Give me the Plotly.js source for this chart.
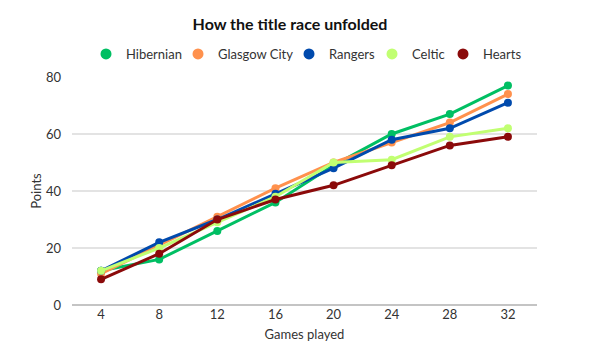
<!DOCTYPE html>
<html>
<head>
<meta charset="utf-8">
<script src="https://cdn.plot.ly/plotly-3.0.1.min.js"></script>
<style>html,body{margin:0;padding:0;background:#fff}#chart{width:602px;height:357px}</style>
</head>
<body>
<div id="chart"></div>
<script>
const games = [4, 8, 12, 16, 20, 24, 28, 32];
const teams = ["Hibernian", "Glasgow City", "Rangers", "Celtic", "Hearts"];
const hibernian = [12, 16, 26, 36, 49, 60, 67, 77];
const glasgowCity = [11, 21, 31, 41, 50, 57, 64, 74];
const rangers = [12, 22, 30, 39, 48, 58, 62, 71];
const celtic = [12, 20, 29, 38, 50, 51, 59, 62];
const hearts = [9, 18, 30, 37, 42, 49, 56, 59];
const yTicks = [0, 20, 40, 60, 80];
const xTicks = games;

const series = [hibernian, glasgowCity, rangers, celtic, hearts];
const colors = ["#00bf63", "#ff914d", "#004aad", "#c1ff72", "#8b0a0a"];
const legendMarkerX = [106, 198, 309, 392, 463];
const FONT = "Lato, 'Open Sans', sans-serif";
const legendIds = ["legend", "legend2", "legend3", "legend4", "legend5"];

const traces = [];
teams.forEach((name, i) => {
  traces.push({
    x: games, y: series[i], name: name, type: "scatter", mode: "lines+markers",
    line: {color: colors[i], width: 3},
    marker: {color: colors[i], size: 8},
    legendgroup: name, showlegend: false, cliponaxis: false
  });
});
teams.forEach((name, i) => {
  traces.push({
    x: [null], y: [null], name: name, type: "scatter", mode: "markers",
    marker: {color: colors[i], size: 11},
    legendgroup: name, showlegend: true, legend: legendIds[i]
  });
});

const layout = {
  width: 602, height: 357,
  margin: {l: 72, r: 65, t: 77, b: 52},
  paper_bgcolor: "#fff", plot_bgcolor: "#fff",
  font: {family: FONT, size: 13, color: "#333"},
  title: {text: "<b>How the title race unfolded</b>", font: {family: FONT, size: 16, color: "#111"},
          x: 290/602, xanchor: "center", y: 1 - 24/357, yanchor: "middle", xref: "container", yref: "container"},
  showlegend: true,
  xaxis: {range: [2, 34], tickvals: xTicks, ticktext: xTicks.map(String), showgrid: false, zeroline: false,
          showline: false, ticks: "", tickfont: {size: 13, color: "#333"},
          title: {text: "Games played", font: {size: 13, color: "#333"}, standoff: 8}},
  yaxis: {range: [0, 80], tickvals: yTicks, showgrid: true, gridcolor: "#e3e3e3", gridwidth: 2,
          zeroline: true, zerolinecolor: "#c4c4c4", zerolinewidth: 2, showline: false, ticks: "",
          ticklabelstandoff: 10,
          tickfont: {size: 13, color: "#333"},
          title: {text: "Points", font: {size: 13, color: "#333"}, standoff: 1}}
};
legendIds.forEach((id, i) => {
  layout[id] = {orientation: "h", x: (legendMarkerX[i] - 20) / 602, xanchor: "left", xref: "container",
                y: 1 - 54/357, yanchor: "middle", yref: "container", bgcolor: "rgba(0,0,0,0)",
                font: {family: FONT, size: 13, color: "#333"}, itemwidth: 30, itemclick: false};
});

Plotly.newPlot("chart", traces, layout, {displayModeBar: false, staticPlot: true});
</script>
</body>
</html>
